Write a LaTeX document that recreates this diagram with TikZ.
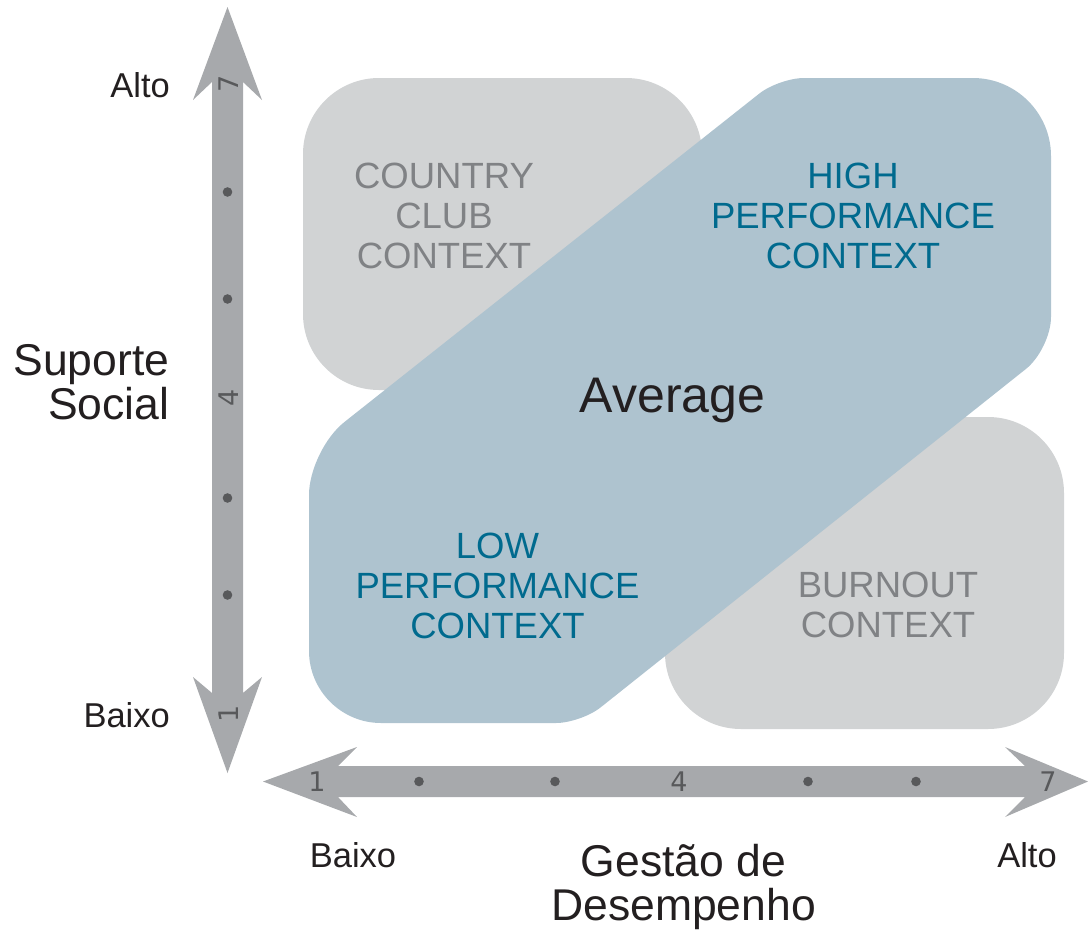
\documentclass[tikz,border=0pt]{standalone}
\usepackage{fontspec}
\setmainfont{Liberation Sans}
\newfontfamily\tickfont{DejaVu Sans}
\definecolor{axisgray}{HTML}{A7A9AC}
\definecolor{dotgray}{HTML}{58595B}
\definecolor{boxgray}{HTML}{D1D3D4}
\definecolor{boxblue}{HTML}{AEC3CF}
\definecolor{txtgray}{HTML}{808285}
\definecolor{txtblue}{HTML}{006A8E}
\definecolor{txtblack}{HTML}{231F20}
\begin{document}
\begin{tikzpicture}[x=1pt,y=-1pt,
  quadlabel/.style={font=\fontsize{36.5}{40}\selectfont, align=center, inner sep=0pt},
  greytext/.style={quadlabel, text=txtgray},
  bluetext/.style={quadlabel, text=txtblue},
  axislabel/.style={font=\fontsize{44.5}{44}\selectfont, text=txtblack, inner sep=0pt},
  endlabel/.style={font=\fontsize{34.5}{38}\selectfont, text=txtblack, inner sep=0pt},
  ticknum/.style={font=\tickfont\fontsize{27}{27}\selectfont, text=dotgray, inner sep=0pt},
  tickdot/.style={fill=dotgray}
]
\useasboundingbox (0,0) rectangle (1088,930);

% grey quadrant boxes
\fill[boxgray, rounded corners=76pt] (303,78) rectangle (702,390);
\fill[boxgray, rounded corners=76pt] (665,417) rectangle (1064,729);

% blue diagonal band
\fill[boxblue] (804,78) -- (973,78)
  .. controls (1015.9,78) and (1051,113.1) .. (1051,156)
  -- (1051,317)
  .. controls (1051,334.6) and (1039.75,357.9) .. (1026,368.9)
  -- (600.6,707.4)
  .. controls (589.8,716) and (569.75,723) .. (556,723)
  -- (381,723)
  .. controls (341.4,723) and (309,690.6) .. (309,651)
  -- (309,495)
  .. controls (309,470.25) and (324.9,437.4) .. (344.3,422.1)
  -- (759.4,93.5)
  .. controls (770.2,85) and (790.25,78) .. (804,78) -- cycle;

% axes
\fill[axisgray] (227.5,7) -- (262,100) -- (243,82) -- (243,693) -- (262,677)
  -- (227.5,773) -- (193,677) -- (212,693) -- (212,82) -- (193,100) -- cycle;
\fill[axisgray] (263,781.5) -- (357,747) -- (338,766) -- (1025,766) -- (1005,747)
  -- (1088,781.5) -- (1005,817) -- (1025,797) -- (338,797) -- (357,817) -- cycle;

% tick dots
\foreach \yy in {192,299,498,595} \fill[tickdot] (227.5,\yy) circle[radius=4.8];
\foreach \xx in {419,555,808,916} \fill[tickdot] (\xx,781.5) circle[radius=4.8];

% tick numbers
\node[ticknum, rotate=90] (v7) at (229,84) {7};
\node[ticknum, rotate=90] (v4) at (229,398) {4};
\node[ticknum, rotate=90] (v1) at (229,714) {1};
\node[ticknum] (h1) at (317,782) {1};
\node[ticknum] (h4) at (679,782) {4};
\node[ticknum] (h7) at (1048,782) {7};

% quadrant labels
\node[greytext] (country) at (444,216) {COUNTRY\\CLUB\\CONTEXT};
\node[bluetext] (high) at (853,216) {HIGH\\PERFORMANCE\\CONTEXT};
\node[bluetext] (low) at (497.5,586) {LOW\\PERFORMANCE\\CONTEXT};
\node[greytext] (burnout) at (888,605) {BURNOUT\\CONTEXT};
\node[font=\fontsize{50}{54}\selectfont, text=txtblack, inner sep=0pt, anchor=base] (avg) at (672.5,412) {Average};

% axis labels
\node[axislabel, align=right, anchor=east] (ylab) at (169.5,382.5) {Suporte\\Social};
\node[axislabel, align=center] (xlab) at (683.5,887) {Gestão de\\Desempenho};
\node[endlabel, anchor=base east] (yhigh) at (170,97.5) {Alto};
\node[endlabel, anchor=base east] (ylow) at (170,727.5) {Baixo};
\node[endlabel, anchor=base] (xlow) at (353,867.5) {Baixo};
\node[endlabel, anchor=base] (xhigh) at (1027,867.5) {Alto};
\end{tikzpicture}
\end{document}
